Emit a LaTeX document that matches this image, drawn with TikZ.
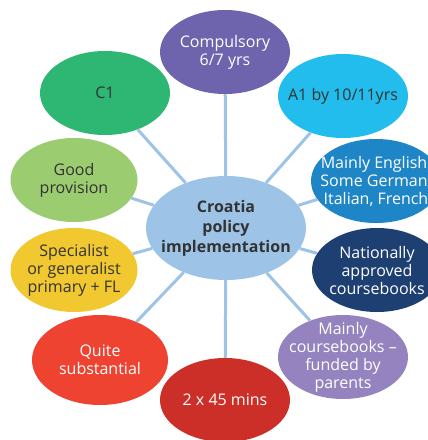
\documentclass[tikz,border=0pt]{standalone}
\usepackage{fontspec}
\setmainfont{Open Sans}
\usetikzlibrary{shapes.geometric}
\definecolor{hubblue}{HTML}{9DC3E6}
\definecolor{spokeblue}{HTML}{9DC3E6}
\definecolor{purple1}{HTML}{6E64AD}
\definecolor{green1}{HTML}{2EB673}
\definecolor{cyan1}{HTML}{22BDEC}
\definecolor{green2}{HTML}{9BCC70}
\definecolor{blue1}{HTML}{1E86C6}
\definecolor{navy1}{HTML}{1D3F72}
\definecolor{yellow1}{HTML}{F1C830}
\definecolor{red1}{HTML}{EE4330}
\definecolor{red2}{HTML}{CC2F27}
\definecolor{lilac1}{HTML}{9483BE}
\definecolor{inkgrey}{HTML}{333333}

\begin{document}
\begin{tikzpicture}[x=1pt,y=-1pt]
  \useasboundingbox (0,0) rectangle (428,440);
  \clip (0,0) rectangle (428,440);

  \tikzstyle{bubble}=[shape=ellipse,inner xsep=-40pt,inner ysep=-30pt,minimum width=130pt,minimum height=84pt,align=center,font=\fontsize{16}{18}\selectfont,text=white]
  \tikzstyle{darkbubble}=[bubble,text=inkgrey]
  \tikzstyle{hubnode}=[shape=ellipse,inner xsep=-40pt,inner ysep=-20pt,minimum width=160pt,minimum height=104pt,align=center,fill=hubblue,text=inkgrey,font=\bfseries\fontsize{16}{20}\selectfont]

  \node[hubnode]                 (hub) at (226,228) {Croatia\\policy\\implementation};
  \node[bubble,fill=purple1]     (v1)  at (225,52)  {Compulsory\\6/7 yrs};
  \node[darkbubble,fill=cyan1]   (v2)  at (343,96)  {A1 by 10/11yrs};
  \node[bubble,fill=blue1]       (v3)  at (376,181) {Mainly English,\\Some German,\\Italian, French};
  \node[bubble,fill=navy1]       (v4)  at (377,270) {Nationally\\approved\\coursebooks};
  \node[bubble,fill=lilac1]      (v5)  at (343,357) {Mainly\\coursebooks --\\funded by\\parents};
  \node[bubble,fill=red2]        (v6)  at (225,400) {2 x 45 mins};
  \node[bubble,fill=red1,minimum width=136pt,minimum height=90pt] (v7) at (100,360) {Quite\\substantial};
  \node[darkbubble,fill=yellow1,minimum width=127pt] (v8) at (74,270) {Specialist\\or generalist\\primary + FL};
  \node[darkbubble,fill=green2,minimum width=127pt]  (v9) at (74,180) {Good\\provision};
  \node[darkbubble,fill=green1]  (v10) at (105,93)  {C1};

  \path[spokeblue,line width=3pt]
    (hub) edge (v1)  (hub) edge (v2)  (hub) edge (v3)  (hub) edge (v4)
    (hub) edge (v5)  (hub) edge (v6)  (hub) edge (v7)  (hub) edge (v8)
    (hub) edge (v9)  (hub) edge (v10);

\end{tikzpicture}
\end{document}
